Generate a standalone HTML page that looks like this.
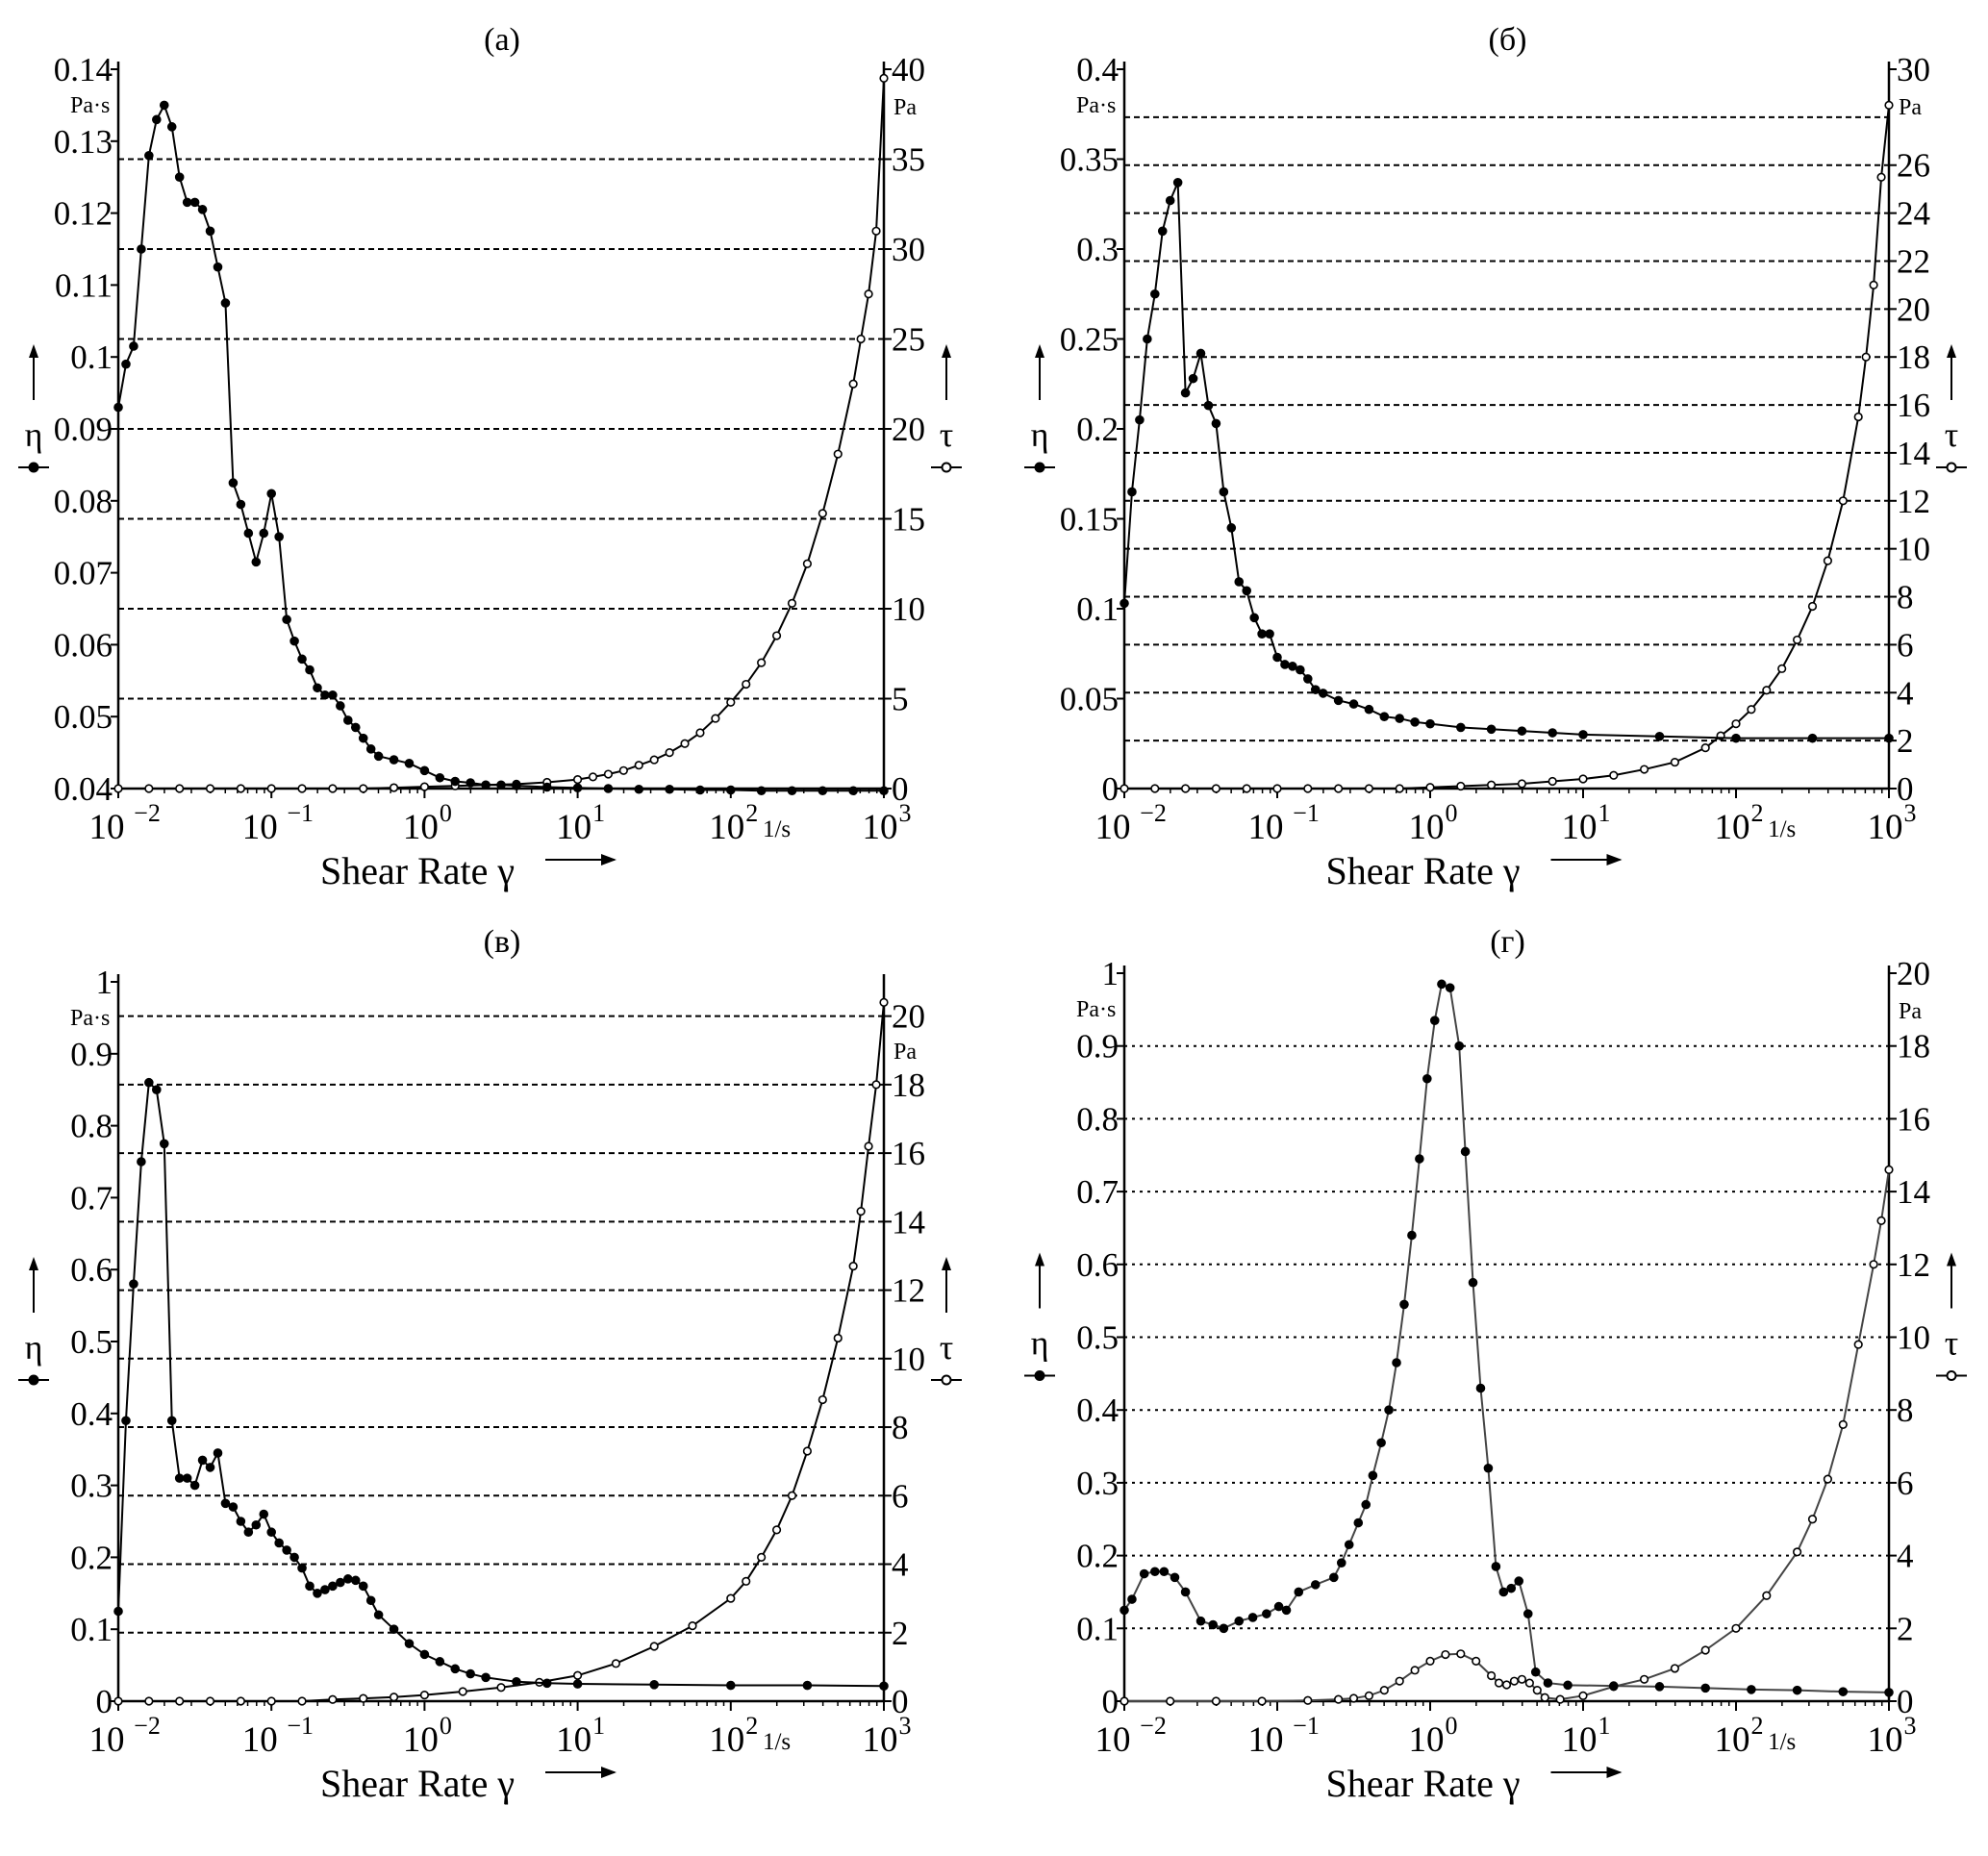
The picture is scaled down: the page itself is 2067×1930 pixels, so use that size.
<!DOCTYPE html>
<html><head><meta charset="utf-8">
<style>
html,body{margin:0;padding:0;background:#fff;}
svg{display:block;font-family:"Liberation Serif","DejaVu Serif",serif;}
</style></head>
<body>
<svg id="fig" width="2067" height="1930" viewBox="0 0 2067 1930" xmlns="http://www.w3.org/2000/svg"></svg>
<script>
// ---- Panel (a) data ----
const aEtaX=[-2,-1.95,-1.9,-1.85,-1.8,-1.75,-1.7,-1.65,-1.6,-1.55,-1.5,-1.45,-1.4,-1.35,-1.3,-1.25,-1.2,-1.15,-1.1,-1.05,-1.0,-0.95,-0.9,-0.85,-0.8,-0.75,-0.7,-0.65,-0.6,-0.55,-0.5,-0.45,-0.4,-0.35,-0.3,-0.2,-0.1,0,0.1,0.2,0.3,0.4,0.5,0.6,0.8,1.0,1.2,1.4,1.6,1.8,2.0,2.2,2.4,2.6,2.8,3.0];
const aEtaY=[0.093,0.099,0.1015,0.115,0.128,0.133,0.135,0.132,0.125,0.1215,0.1215,0.1205,0.1175,0.1125,0.1075,0.0825,0.0795,0.0755,0.0715,0.0755,0.081,0.075,0.0635,0.0605,0.058,0.0565,0.054,0.053,0.053,0.0515,0.0495,0.0485,0.047,0.0455,0.0445,0.044,0.0435,0.0425,0.0415,0.041,0.0408,0.0405,0.0405,0.0404,0.0402,0.0401,0.04,0.0399,0.0399,0.0398,0.0398,0.0397,0.0397,0.0397,0.0397,0.0397];
const aTauX=[-2,-1.8,-1.6,-1.4,-1.2,-1.0,-0.8,-0.6,-0.4,-0.2,0,0.2,0.4,0.6,0.8,1.0,1.1,1.2,1.3,1.4,1.5,1.6,1.7,1.8,1.9,2.0,2.1,2.2,2.3,2.4,2.5,2.6,2.7,2.8,2.85,2.9,2.95,3.0];
const aTauY=[0,0,0,0,0,0,0,0,0,0.05,0.1,0.15,0.2,0.25,0.35,0.5,0.65,0.8,1.0,1.3,1.6,2.0,2.5,3.1,3.9,4.8,5.8,7.0,8.5,10.3,12.5,15.3,18.6,22.5,25,27.5,31,39.5];
// ---- Panel (б) data ----
const bEtaX=[-2,-1.95,-1.9,-1.85,-1.8,-1.75,-1.7,-1.65,-1.6,-1.55,-1.5,-1.45,-1.4,-1.35,-1.3,-1.25,-1.2,-1.15,-1.1,-1.05,-1.0,-0.95,-0.9,-0.85,-0.8,-0.75,-0.7,-0.6,-0.5,-0.4,-0.3,-0.2,-0.1,0,0.2,0.4,0.6,0.8,1.0,1.5,2.0,2.5,3.0];
const bEtaY=[0.103,0.165,0.205,0.25,0.275,0.31,0.327,0.337,0.22,0.228,0.242,0.213,0.203,0.165,0.145,0.115,0.11,0.095,0.086,0.086,0.073,0.069,0.068,0.066,0.061,0.055,0.053,0.049,0.047,0.044,0.04,0.039,0.037,0.036,0.034,0.033,0.032,0.031,0.03,0.029,0.028,0.028,0.028];
const bTauX=[-2,-1.8,-1.6,-1.4,-1.2,-1.0,-0.8,-0.6,-0.4,-0.2,0,0.2,0.4,0.6,0.8,1.0,1.2,1.4,1.6,1.8,1.9,2.0,2.1,2.2,2.3,2.4,2.5,2.6,2.7,2.8,2.85,2.9,2.95,3.0];
const bTauY=[0,0,0,0,0,0,0,0,0,0,0.05,0.1,0.15,0.2,0.3,0.4,0.55,0.8,1.1,1.7,2.2,2.7,3.3,4.1,5.0,6.2,7.6,9.5,12,15.5,18,21,25.5,28.5];
// ---- Panel (в) data ----
const cEtaX=[-2,-1.95,-1.9,-1.85,-1.8,-1.75,-1.7,-1.65,-1.6,-1.55,-1.5,-1.45,-1.4,-1.35,-1.3,-1.25,-1.2,-1.15,-1.1,-1.05,-1.0,-0.95,-0.9,-0.85,-0.8,-0.75,-0.7,-0.65,-0.6,-0.55,-0.5,-0.45,-0.4,-0.35,-0.3,-0.2,-0.1,0,0.1,0.2,0.3,0.4,0.6,0.8,1.0,1.5,2.0,2.5,3.0];
const cEtaY=[0.125,0.39,0.58,0.75,0.86,0.85,0.775,0.39,0.31,0.31,0.3,0.335,0.325,0.345,0.275,0.27,0.25,0.235,0.245,0.26,0.235,0.22,0.21,0.2,0.185,0.16,0.15,0.155,0.16,0.165,0.17,0.168,0.16,0.14,0.12,0.1,0.08,0.065,0.055,0.045,0.038,0.033,0.027,0.025,0.024,0.023,0.022,0.022,0.021];
const cTauX=[-2,-1.8,-1.6,-1.4,-1.2,-1.0,-0.8,-0.6,-0.4,-0.2,0,0.25,0.5,0.75,1.0,1.25,1.5,1.75,2.0,2.1,2.2,2.3,2.4,2.5,2.6,2.7,2.8,2.85,2.9,2.95,3.0];
const cTauY=[0,0,0,0,0,0,0,0.05,0.08,0.12,0.18,0.28,0.4,0.55,0.75,1.1,1.6,2.2,3.0,3.5,4.2,5.0,6.0,7.3,8.8,10.6,12.7,14.3,16.2,18,20.4];
// ---- Panel (г) data ----
const dEtaX=[-2,-1.95,-1.87,-1.8,-1.74,-1.67,-1.6,-1.5,-1.42,-1.35,-1.25,-1.16,-1.07,-0.99,-0.94,-0.86,-0.75,-0.63,-0.58,-0.53,-0.47,-0.42,-0.375,-0.32,-0.27,-0.22,-0.17,-0.12,-0.07,-0.02,0.03,0.075,0.13,0.19,0.23,0.28,0.33,0.38,0.43,0.48,0.53,0.58,0.64,0.69,0.77,0.9,1.2,1.5,1.8,2.1,2.4,2.7,3.0];
const dEtaY=[0.125,0.14,0.175,0.178,0.178,0.17,0.15,0.11,0.105,0.1,0.11,0.115,0.12,0.13,0.125,0.15,0.16,0.17,0.19,0.215,0.245,0.27,0.31,0.355,0.4,0.465,0.545,0.64,0.745,0.855,0.935,0.985,0.98,0.9,0.755,0.575,0.43,0.32,0.185,0.15,0.155,0.165,0.12,0.04,0.025,0.022,0.021,0.02,0.018,0.016,0.015,0.013,0.012];
const dTauX=[-2,-1.7,-1.4,-1.1,-0.8,-0.6,-0.5,-0.4,-0.3,-0.2,-0.1,0,0.1,0.2,0.3,0.4,0.45,0.5,0.55,0.6,0.65,0.7,0.75,0.85,1.0,1.2,1.4,1.6,1.8,2.0,2.2,2.4,2.5,2.6,2.7,2.8,2.9,2.95,3.0];
const dTauY=[0,0,0,0,0.02,0.05,0.08,0.15,0.3,0.55,0.85,1.1,1.28,1.3,1.1,0.7,0.5,0.45,0.55,0.6,0.5,0.3,0.1,0.05,0.15,0.4,0.6,0.9,1.4,2.0,2.9,4.1,5.0,6.1,7.6,9.8,12,13.2,14.6];

const NS="http://www.w3.org/2000/svg";
const svg=document.getElementById('fig');
function mk(tag,attrs,parent,text){
  const e=document.createElementNS(NS,tag);
  for(const k in attrs)e.setAttribute(k,attrs[k]);
  if(text!==undefined)e.textContent=text;
  (parent||svg).appendChild(e);return e;
}
function panel(p){
  const g=mk('g',{});
  
  
  const X=v=>p.L+(v+2)/5*(p.R-p.L);
  const YL=v=>p.B-(v-p.lmin)/(p.lmax-p.lmin)*(p.B-p.T);
  const YR=v=>p.B-v/p.rmax*(p.B-p.T);
  p.grid.forEach(v=>{const y=p.gridRight?YR(v):YL(v);
    const l=mk('line',{x1:p.L,x2:p.R,y1:y,y2:y,stroke:'#000','stroke-width':2,'stroke-dasharray':p.dot?'3,5':'6,4'},g);
    });
  const ax=mk('path',{d:`M${p.L},${p.T-8}V${p.B}H${p.R}V${p.T-8}`,fill:'none',stroke:'#000','stroke-width':2.5},g);
  
  p.lticks.forEach((t,i)=>{const y=YL(t);
    mk('line',{x1:p.L-8,x2:p.L,y1:y,y2:y,stroke:'#000','stroke-width':2},g);
    const tx=mk('text',{x:p.L-6,y:y+12,'text-anchor':'end','font-size':35},g,p.llabels[i]);
    });
  p.rticks.forEach((t,i)=>{const y=YR(t);
    mk('line',{x1:p.R,x2:p.R+8,y1:y,y2:y,stroke:'#000','stroke-width':2},g);
    const tx=mk('text',{x:p.R+8,y:y+12,'font-size':35},g,p.rlabels[i]);
    });
  [-2,-1,0,1,2,3].forEach(d=>{const x=X(d);
    mk('line',{x1:x,x2:x,y1:p.B,y2:p.B+10,stroke:'#000','stroke-width':2},g);
    for(let k=2;k<10&&d<3;k++){const xx=X(d+Math.log10(k));mk('line',{x1:xx,x2:xx,y1:p.B,y2:p.B+5,stroke:'#000','stroke-width':1.5},g);}
    const t=mk('text',{x:x-(d<0?12:4),y:p.B+52,'text-anchor':'middle','font-size':37},g,'10');
    
    mk('text',{x:x+(d<0?30:22),y:p.B+34,'text-anchor':'middle','font-size':26},g,d<0?'\u2212'+(-d):''+d);
  });
  const u=mk('text',{x:X(2.3),y:p.B+50,'text-anchor':'middle','font-size':25},g,'1/s');
  
  const cx=(p.L+p.R)/2;
  const xt=mk('text',{x:cx-188,y:p.B+99,'font-size':40},g,'Shear Rate \u03b3');
  
  mk('path',{d:`M${cx+46},${p.B+74}h72`,stroke:'#000','stroke-width':2},g);
  mk('path',{d:`M${cx+120},${p.B+74}l-16,-6v12z`,fill:'#000'},g);
  const ti=mk('text',{x:cx+1,y:p.titleY,'text-anchor':'middle','font-size':34},g,p.title);
  
  const pu=mk('text',{x:p.L-50,y:p.T+45,'font-size':24},g,'Pa\u00b7s');
  
  const pr=mk('text',{x:p.R+10,y:p.T+(p.paY||47),'font-size':24},g,'Pa');
  
  const my=(p.T+p.B)/2-40;
  [[p.L-98,'\u03b7','eta-axis-title',true],[p.R+55,'\u03c4','tau-axis-title',false]].forEach(([x,s,n,f])=>{
    mk('path',{d:`M${x+10},${my+10}v-50`,stroke:'#000','stroke-width':2},g);
    mk('path',{d:`M${x+10},${my-48}l-5,14h10z`,fill:'#000'},g);
    const t=mk('text',{x:x+10,y:my+58,'text-anchor':'middle','font-size':36},g,s);
    
    mk('line',{x1:x-6,x2:x+26,y1:my+80,y2:my+80,stroke:'#000','stroke-width':2},g);
    mk('circle',{cx:x+10,cy:my+80,r:4.5,fill:f?'#000':'#fff',stroke:'#000','stroke-width':2},g);
  });
  function series(xs,ys,Y,filled,name){
    const pl=mk('polyline',{points:xs.map((v,i)=>X(v)+','+Y(ys[i])).join(' '),fill:'none',stroke:p.dot?'#444':'#000','stroke-width':2},g);
    
    xs.forEach((v,i)=>{const c=mk('circle',{cx:X(v),cy:Y(ys[i]),r:filled?4:3.8,fill:filled?'#000':'#fff',stroke:'#000','stroke-width':1.6},g);
      });
  }
  series(p.tx,p.ty,YR,false,'tau');
  series(p.ex,p.ey,YL,true,'eta');
}
function rng(a,b,s){const r=[];for(let v=a;v<=b+1e-9;v+=s)r.push(+v.toFixed(4));return r;}
const aL=rng(0.04,0.14,0.01), bL=rng(0,0.4,0.05), cL=rng(0,1,0.1);
panel({name:'panel-a',title:'(a)',titleY:52,L:123,R:919,T:72,B:820,lmin:0.04,lmax:0.14,rmax:40,
  lticks:aL,llabels:aL.map(v=>String(+v.toFixed(2))),rticks:rng(0,40,5),rlabels:rng(0,40,5).map(String),
  grid:rng(5,35,5),gridRight:true,ex:aEtaX,ey:aEtaY,tx:aTauX,ty:aTauY});
const bR=[0,2,4,6,8,10,12,14,16,18,20,22,24,26,30];
panel({name:'panel-b',title:'(\u0431)',titleY:52,L:1169,R:1964,T:72,B:820,lmin:0,lmax:0.4,rmax:30,
  lticks:bL,llabels:bL.map(v=>String(+v.toFixed(2))),rticks:bR,rlabels:bR.map(String),
  grid:rng(2,28,2),gridRight:true,ex:bEtaX,ey:bEtaY,tx:bTauX,ty:bTauY});
panel({name:'panel-v',title:'(\u0432)',titleY:990,L:123,R:919,T:1021,B:1769,lmin:0,lmax:1,rmax:21,paY:80,
  lticks:cL,llabels:cL.map(v=>String(+v.toFixed(1))),rticks:rng(0,20,2),rlabels:rng(0,20,2).map(String),
  grid:rng(2,20,2),gridRight:true,ex:cEtaX,ey:cEtaY,tx:cTauX,ty:cTauY});
panel({name:'panel-g',title:'(\u0433)',titleY:990,L:1169,R:1964,T:1012,B:1769,lmin:0,lmax:1,rmax:20,dot:true,
  lticks:cL,llabels:cL.map(v=>String(+v.toFixed(1))),rticks:rng(0,20,2),rlabels:rng(0,20,2).map(String),
  grid:rng(0.1,0.9,0.1),gridRight:false,ex:dEtaX,ey:dEtaY,tx:dTauX,ty:dTauY});
</script>
</body></html>
